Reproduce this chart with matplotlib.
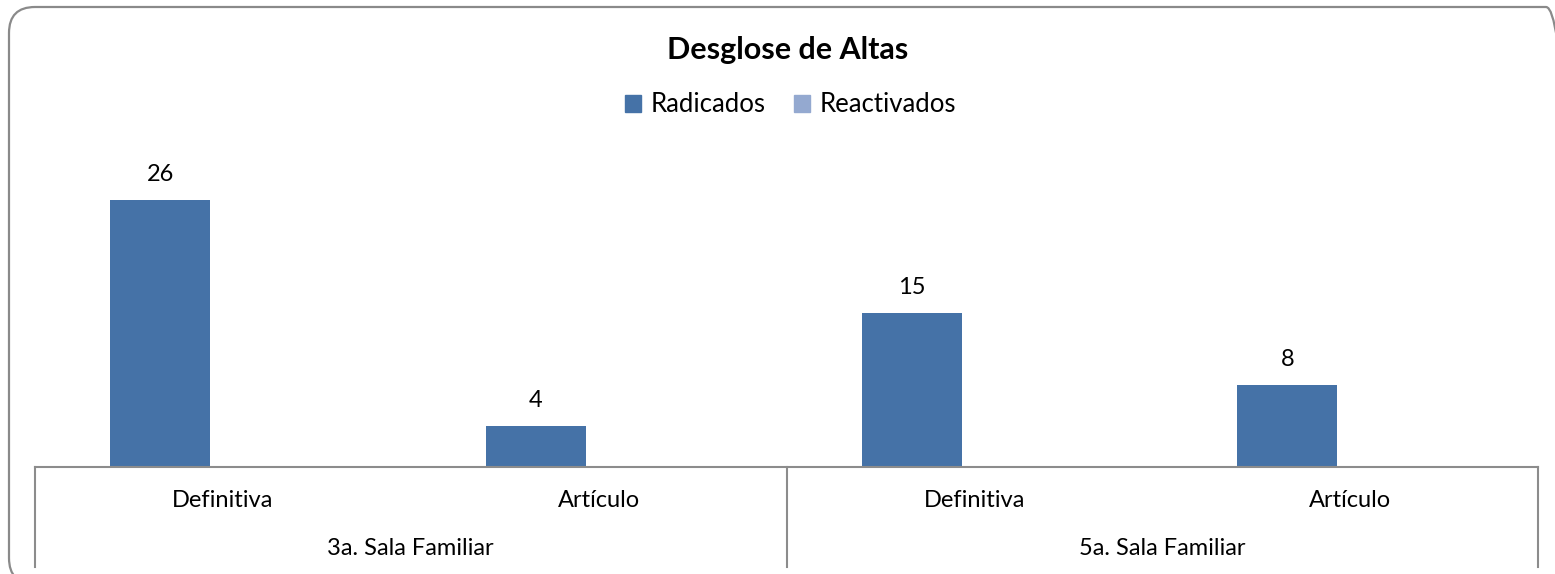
import numpy as np
import matplotlib
matplotlib.use('Agg')
import matplotlib.pyplot as plt
from matplotlib.patches import FancyBboxPatch, Patch
from matplotlib.lines import Line2D

# data
categorias = ['Definitiva', 'Artículo', 'Definitiva', 'Artículo']
salas = ['3a. Sala Familiar', '5a. Sala Familiar']
radicados = [26, 4, 15, 8]
reactivados = [0, 0, 0, 0]

plt.rcParams['font.family'] = ['Lato', 'DejaVu Sans']

W, H = 1555, 574
fig = plt.figure(figsize=(W/100, H/100), dpi=100, facecolor='w')

def fx(px):
    return px / W

def fy(py):
    return 1 - py / H

# rounded frame of the chart area (pixel space axes behind everything)
fondo = fig.add_axes([0, 0, 1, 1], zorder=-1)
fondo.set_xlim(0, W)
fondo.set_ylim(0, H)
fondo.axis('off')
fondo.add_patch(FancyBboxPatch((9, H - 584), 1572 - 9, 584 - 7,
                               boxstyle='round,pad=0,rounding_size=26',
                               fc='none', ec='#8a8a8a', lw=1.6))

ax = fig.add_axes([fx(35), fy(467), fx(1538) - fx(35), fy(159) - fy(467)])
x = np.arange(len(categorias))
ancho = 0.266
b1 = ax.bar(x + 0.2, radicados, ancho, align='edge', color='#4572A7', label='Radicados')
b2 = ax.bar(x + 0.2 + ancho, reactivados, ancho, align='edge', color='#94A9D0', label='Reactivados')
for rect, v in zip(b1, radicados):
    ax.annotate(str(v), (rect.get_x() + rect.get_width()/2, v), xytext=(0, 11),
                textcoords='offset points', ha='center', va='bottom', fontsize=17)

ax.set_xlim(0, len(categorias))
ax.set_ylim(0, 30)
ax.set_xticks([])
ax.set_yticks([])
ax.patch.set_alpha(0)
for s in ['top', 'left', 'right']:
    ax.spines[s].set_visible(False)
ax.spines['bottom'].set_color('#8c8c8c')
ax.spines['bottom'].set_linewidth(1.5)

# multi-level category axis
tr = ax.get_xaxis_transform()
for i, c in enumerate(categorias):
    ax.text(i + 0.5, -0.110, c, transform=tr, ha='center', va='center', fontsize=17)
for j, s in enumerate(salas):
    ax.text(2*j + 1, -0.266, s, transform=tr, ha='center', va='center', fontsize=17)
for xv in [0, 2, 4]:
    ax.add_line(Line2D([xv, xv], [0, -0.325], transform=tr, color='#8c8c8c',
                       lw=1.5, clip_on=False))

fig.text(fx(788), fy(50), 'Desglose de Altas', ha='center', va='center',
         fontsize=22, fontweight='bold')
fig.legend(handles=[Patch(color='#4572A7', label='Radicados'),
                    Patch(color='#94A9D0', label='Reactivados')],
           loc='center', bbox_to_anchor=(fx(791), fy(105)), ncol=2, frameon=False,
           fontsize=18.5, handlelength=0.6, handleheight=0.6, handletextpad=0.4,
           columnspacing=1.1)

plt.savefig('out.png', dpi=100)
